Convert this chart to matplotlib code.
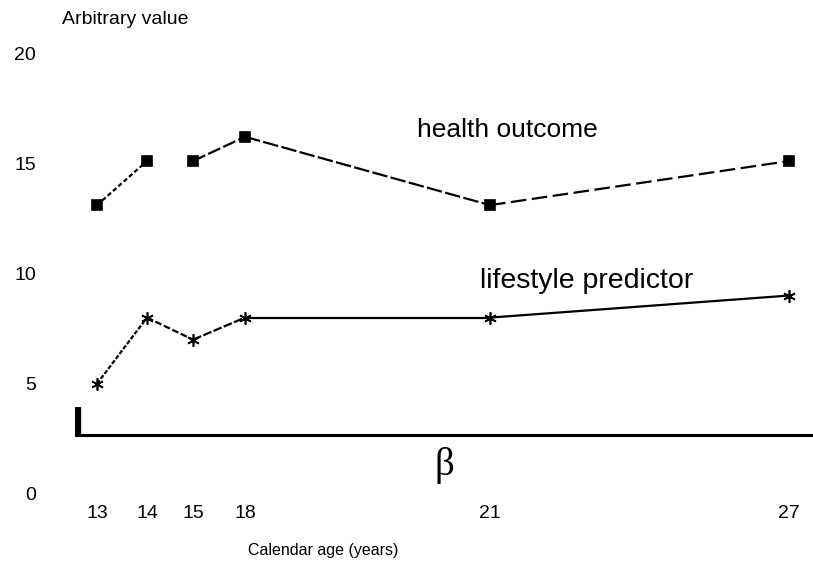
import matplotlib
matplotlib.use("Agg")
import matplotlib.pyplot as plt
import numpy as np

plt.rcParams["font.family"] = ["Liberation Sans", "DejaVu Sans"]

# data
ages = [13, 14, 15, 18, 21, 27]
health = [13.1, 15.1, 15.1, 16.2, 13.1, 15.1]
lifestyle = [5.0, 8.0, 7.0, 8.0, 8.0, 9.0]
y_ticks = [0, 5, 10, 15, 20]

# line style of each segment between consecutive ages (None = no line)
health_segs = [(0, (2, 1.2)), None, (0, (6, 1.5)), (0, (7, 1.5)), (0, (7, 2.5))]
lifestyle_segs = [(0, (2, 0.8)), (0, (3, 1.2)), (0, (4, 1)), "-", "-"]

# the age axis in the original is stretched unevenly: map ages to display units
anchor_ages = [10, 13, 14, 15, 18, 21, 27, 30]
anchor_pos = [-128, 22, 72, 118, 170, 415, 714, 864]


def fwd(x):
    return np.interp(x, anchor_ages, anchor_pos)


def inv(u):
    return np.interp(u, anchor_pos, anchor_ages)


fig = plt.figure(figsize=(8.13, 5.65), dpi=100)
ax = fig.add_axes([75 / 813, 71 / 565, 738 / 813, 441 / 565])
ax.set_xscale("function", functions=(fwd, inv))


def plot_series(ax, x, y, segs, marker, ms):
    for i, ls in enumerate(segs):
        if ls is None:
            continue
        ax.plot(x[i:i + 2], y[i:i + 2], color="black", lw=1.6, ls=ls,
                solid_capstyle="butt")
    ax.plot(x, y, ls="none", marker=marker, ms=ms, color="black", mew=1.2)


plot_series(ax, ages, health, health_segs, "s", 7)
plot_series(ax, ages, lifestyle, lifestyle_segs, (6, 2, 0), 9)

# broken-axis symbol near the bottom
yx = ax.get_yaxis_transform()
ax.axhline(2.68, xmin=0, xmax=1, color="black", lw=2.2)
ax.vlines(0.004, 2.68, 3.95, transform=yx, color="black", lw=4.5)

ax.text(0.464, 16.5, "health outcome", transform=yx, fontsize=19,
        ha="left", va="center")
ax.text(0.549, 9.65, "lifestyle predictor", transform=yx, fontsize=20.5,
        ha="left", va="center")
ax.text(0.500, 1.3, "β", transform=yx, fontsize=28,
        family=["Liberation Serif", "DejaVu Serif"], ha="center", va="center")

ax.set_xlim(12.56, 27.48)
ax.set_ylim(0, 20)
ax.set_xticks(ages, [str(a) for a in ages])
ax.set_yticks(y_ticks, [str(t) for t in y_ticks])
ax.tick_params(axis="both", length=0, labelsize=14)
ax.tick_params(axis="y", pad=28)
ax.tick_params(axis="x", pad=8)
for s in ax.spines.values():
    s.set_visible(False)

fig.text(62 / 813, 1 - 20 / 565, "Arbitrary value", fontsize=14,
         ha="left", va="center")
fig.text(323 / 813, 1 - 550 / 565, "Calendar age (years)", fontsize=11.5,
         ha="center", va="center")

fig.savefig("out.png", dpi=100)
